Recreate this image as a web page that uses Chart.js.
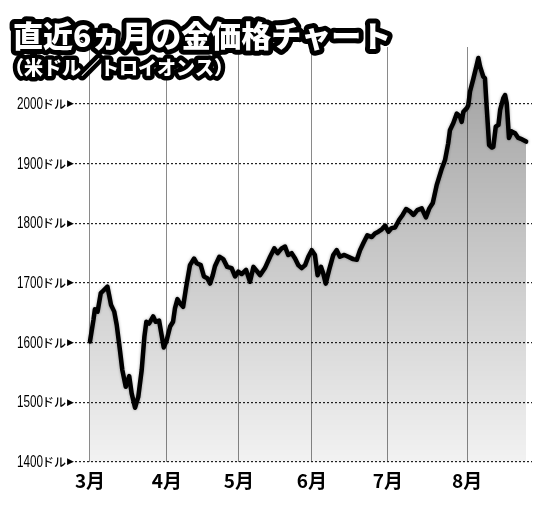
<!DOCTYPE html>
<html>
<head>
<meta charset="utf-8">
<script src="https://cdn.jsdelivr.net/npm/chart.js@4.4.1/dist/chart.umd.min.js"></script>
<style>
  html, body { margin: 0; padding: 0; background: #fff; }
  #wrap { width: 550px; height: 507px; position: relative; }
</style>
</head>
<body>
<div id="wrap"><canvas id="goldChart"></canvas></div>
<script>
// month labels and where their lines sit (in days from Mar 1)
const monthLabels = ["3月", "4月", "5月", "6月", "7月", "8月"];
const monthPos = [0, 31.4, 60.8, 90.6, 121.6, 153.9];

const yTicks = [1400, 1500, 1600, 1700, 1800, 1900, 2000];
const yUnit = "ドル";

// days since Mar 1
const days = [
    0, 1.4, 2.0, 3.1, 4.4, 5.4, 7.1, 7.8, 8.6, 9.9,
    10.9, 12.2, 13.2, 14.6, 16.0, 17.0, 18.4, 19.7, 21.1, 22.2,
    23.0, 24.1, 25.8, 26.8, 28.2, 30.1, 31.3, 32.7, 33.9, 34.7,
    35.7, 36.7, 38.0, 39.2, 40.8, 42.5, 43.6, 45.2, 46.5, 47.9,
    49.0, 50.1, 51.0, 52.8, 54.4, 56.0, 57.8, 59.2, 60.5, 61.9,
    63.7, 65.3, 66.7, 68.3, 69.4, 71.4, 73.5, 75.2, 76.6, 78.2,
    79.6, 80.9, 82.3, 83.7, 85.0, 86.4, 87.8, 89.1, 90.5, 91.8,
    92.9, 94.3, 95.2, 96.2, 97.6, 99.3, 100.7, 102.0, 103.8, 105.4,
    107.4, 108.9, 110.2, 111.6, 113.2, 115.0, 116.3, 117.7, 119.1, 120.4,
    121.8, 123.1, 124.5, 126.2, 127.6, 129.0, 130.6, 132.0, 133.6, 135.4,
    137.1, 138.5, 139.9, 141.5, 143.6, 144.9, 146.2, 146.9, 148.3, 149.7,
    151.0, 151.7, 152.4, 153.8, 154.4, 155.1, 156.5, 157.8, 158.5, 159.2,
    160.5, 161.2, 161.9, 162.9, 164.0, 164.6, 165.6, 166.7, 167.4, 168.7,
    169.4, 170.1, 171.0, 172.1, 173.5, 174.8, 176.2, 178.0
];

// gold price, dollars per troy ounce
const prices = [
    1602, 1638, 1656, 1652, 1683, 1687, 1694, 1680, 1663, 1652,
    1630, 1588, 1554, 1526, 1544, 1515, 1491, 1509, 1554, 1610,
    1635, 1632, 1644, 1635, 1637, 1592, 1604, 1627, 1635, 1658,
    1673, 1666, 1660, 1692, 1730, 1741, 1733, 1730, 1711, 1708,
    1699, 1713, 1728, 1744, 1740, 1727, 1725, 1711, 1719, 1715,
    1722, 1702, 1727, 1719, 1713, 1725, 1744, 1758, 1750, 1758,
    1761, 1747, 1750, 1741, 1730, 1725, 1730, 1744, 1755, 1747,
    1713, 1727, 1716, 1699, 1722, 1747, 1755, 1744, 1747, 1744,
    1740, 1739, 1755, 1767, 1780, 1777, 1783, 1786, 1790, 1796,
    1786, 1792, 1793, 1806, 1814, 1824, 1820, 1814, 1822, 1825,
    1810, 1825, 1834, 1864, 1892, 1906, 1934, 1956, 1968, 1984,
    1979, 1970, 1987, 1993, 1998, 2021, 2043, 2065, 2077, 2063,
    2046, 2043, 1995, 1931, 1927, 1928, 1962, 1965, 1990, 2010,
    2015, 2001, 1943, 1954, 1951, 1943, 1941, 1937
];

const titleText = "直近6ヵ月の金価格チャート";
const subText = "（米ドル／トロイオンス）";

// y labels: condensed number, smaller "ドル", small arrow - mixed sizes so
// drawn by hand at the y scale's own tick positions
const yLabels = {
    id: "yLabels",
    afterDraw(chart) {
        const ctx = chart.ctx;
        const scale = chart.scales.y;
        ctx.save();
        ctx.fillStyle = "#000";
        ctx.textBaseline = "middle";
        ctx.textAlign = "right";
        scale.ticks.forEach(t => {
            const y = scale.getPixelForValue(t.value);
            let x = scale.right - 1;
            ctx.font = '9px "DejaVu Sans"';
            ctx.fillText("▶", x, y);
            x -= ctx.measureText("▶").width + 1;
            ctx.font = '500 12px "Noto Sans CJK JP"';
            ctx.fillText(yUnit, x, y + 0.5);
            x -= ctx.measureText(yUnit).width - 1;

            const num = String(t.value);
            ctx.font = '16px "Liberation Sans Narrow", "Liberation Sans", sans-serif';
            const k = Math.min(1, 26 / ctx.measureText(num).width);
            ctx.save();
            ctx.translate(x, y + 0.5);
            ctx.scale(k, 1);
            ctx.fillText(num, 0, 0);
            ctx.restore();
        });
        ctx.restore();
    }
};

// outlined title, drawn last so it sits over the grid lines
const titlePlugin = {
    id: "outlinedTitle",
    afterDraw(chart) {
        const ctx = chart.ctx;
        ctx.save();
        ctx.textBaseline = "middle";
        ctx.lineJoin = "round";
        ctx.strokeStyle = "#000";
        ctx.fillStyle = "#fff";

        ctx.font = '900 30px "Noto Sans CJK JP"';
        ctx.lineWidth = 10;
        ctx.strokeText(titleText, 13, 36);
        ctx.fillText(titleText, 13, 36);

        ctx.font = '900 19px "Noto Sans CJK JP"';
        ctx.lineWidth = 9;
        ctx.strokeText(subText, 5, 68);
        ctx.fillText(subText, 5, 68);
        ctx.restore();
    }
};

// soft shadow under the price line only
const lineShadow = {
    id: "lineShadow",
    beforeDatasetDraw(chart) {
        const ctx = chart.ctx;
        ctx.save();
        ctx.shadowColor = "rgba(0,0,0,0.35)";
        ctx.shadowBlur = 3;
    },
    afterDatasetDraw(chart) {
        chart.ctx.restore();
    }
};

function fillGradient(context) {
    const area = context.chart.chartArea;
    if (!area) return "rgba(0,0,0,0.2)";
    const g = context.chart.ctx.createLinearGradient(0, area.top, 0, area.bottom);
    g.addColorStop(0, "rgba(0,0,0,0.38)");
    g.addColorStop(1, "rgba(0,0,0,0.05)");
    return g;
}

const canvas = document.getElementById("goldChart");
new Chart(canvas.getContext("2d"), {
    type: "line",
    data: {
        datasets: [{
            data: days.map((d, i) => ({ x: d, y: prices[i] })),
            borderColor: "#000",
            borderWidth: 4.5,
            borderJoinStyle: "round",
            borderCapStyle: "round",
            backgroundColor: fillGradient,
            fill: "start",
            tension: 0,
            pointRadius: 0
        }]
    },
    options: {
        responsive: true,
        maintainAspectRatio: false,
        animation: false,
        layout: { padding: { left: 0, top: 47, right: 18, bottom: 0 } },
        plugins: {
            legend: { display: false },
            tooltip: { enabled: false }
        },
        scales: {
            x: {
                type: "linear",
                min: -6.12,
                max: 180.4,
                afterBuildTicks: (scale) => {
                    scale.ticks = monthPos.map(v => ({ value: v }));
                },
                afterFit: (scale) => { scale.height = 45; },
                border: { display: false },
                grid: { color: "#8a8a8a", lineWidth: 1, drawTicks: false },
                ticks: {
                    autoSkip: false,
                    maxRotation: 0,
                    padding: 7,
                    color: "#000",
                    font: { family: '"Noto Sans CJK JP"', size: 19, weight: "bold" },
                    callback: (v) => {
                        const i = monthPos.indexOf(v);
                        return i >= 0 ? monthLabels[i] : "";
                    }
                }
            },
            y: {
                min: 1400,
                max: 2095.5,
                afterBuildTicks: (scale) => {
                    scale.ticks = yTicks.map(v => ({ value: v }));
                },
                afterFit: (scale) => { scale.width = 75; },
                border: { display: false, dash: [2, 2] },
                grid: { color: "#222", lineWidth: 1.2, drawTicks: false },
                ticks: { display: false }
            }
        }
    },
    plugins: [lineShadow, yLabels, titlePlugin]
});
</script>
</body>
</html>
